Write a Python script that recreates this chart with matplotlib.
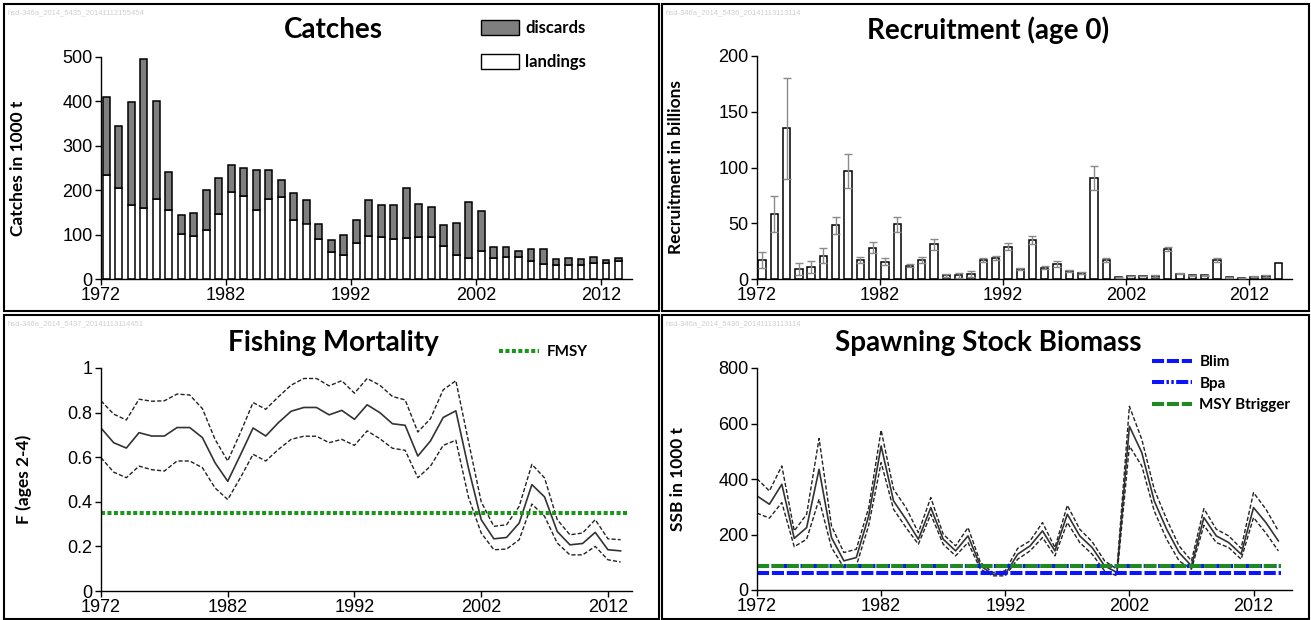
import matplotlib
matplotlib.use("Agg")
import matplotlib.pyplot as plt
from matplotlib.patches import Rectangle, Patch
from matplotlib.lines import Line2D
import numpy as np

W, H = 1311, 620

# catches (1000 t)
catch_years = list(range(1972, 2014))
landings = [235, 206, 167, 159, 181, 156, 102, 96, 111, 147,
            195, 186, 155, 181, 184, 134, 125, 91, 60, 55,
            80, 96, 94, 89, 92, 94, 94, 74, 53, 47,
            62, 47, 50, 49, 41, 34, 32, 32, 31, 35,
            35, 41]
discards = [174, 138, 231, 336, 219, 84, 43, 52, 90, 80,
            62, 65, 90, 64, 39, 59, 54, 34, 27, 43,
            54, 83, 73, 78, 112, 76, 68, 48, 72, 126,
            92, 25, 22, 15, 26, 33, 12, 15, 13, 15,
            7, 6]

# recruitment (billions)
rec_years = list(range(1972, 2015))
recruits = [16.8, 58, 135, 9, 11, 21, 48, 97, 17, 28,
            15.6, 49, 12, 17, 31, 3.3, 3.3, 4.5, 17, 19,
            29, 9, 35, 10, 13.5, 7, 5.4, 90.5, 17, 1.5,
            2.7, 2.7, 2.7, 27, 4.8, 3.3, 3.3, 17, 1.5, 1,
            2, 2.7, 14.4]
rec_err = [7, 16, 45, 5, 5.5, 7, 8, 15, 3, 5,
           3.4, 7, 1.5, 3, 5, 1.2, 2.5, 2.5, 2, 2,
           3, 1, 4, 1.4, 2.5, 1, 0.5, 10.5, 2, 0.3,
           0.4, 0.4, 0.5, 2, 0.6, 0.5, 0.5, 2, 0.3, 0.3,
           0.4, 0.6, 0]

# fishing mortality
f_years = list(range(1972, 2014))
f_mean = [0.731, 0.665, 0.641, 0.71, 0.695, 0.695, 0.733, 0.733, 0.688, 0.575,
          0.492, 0.61, 0.731, 0.695, 0.755, 0.806, 0.823, 0.823, 0.79, 0.81,
          0.77, 0.835, 0.80, 0.75, 0.743, 0.605, 0.673, 0.778, 0.808, 0.55,
          0.32, 0.234, 0.24, 0.305, 0.477, 0.422, 0.267, 0.207, 0.213, 0.263,
          0.185, 0.18]
f_high = [0.853, 0.793, 0.767, 0.86, 0.851, 0.853, 0.883, 0.879, 0.818, 0.68,
          0.583, 0.71, 0.845, 0.815, 0.871, 0.923, 0.953, 0.953, 0.92, 0.943,
          0.887, 0.953, 0.923, 0.872, 0.857, 0.713, 0.773, 0.902, 0.943, 0.67,
          0.40, 0.29, 0.297, 0.38, 0.568, 0.507, 0.32, 0.252, 0.26, 0.32,
          0.234, 0.23]
f_low = [0.598, 0.533, 0.508, 0.56, 0.544, 0.538, 0.583, 0.583, 0.553, 0.462,
         0.41, 0.508, 0.613, 0.583, 0.635, 0.68, 0.694, 0.694, 0.665, 0.68,
         0.653, 0.718, 0.683, 0.64, 0.631, 0.508, 0.56, 0.653, 0.676, 0.42,
         0.26, 0.185, 0.188, 0.23, 0.39, 0.335, 0.215, 0.162, 0.162, 0.2,
         0.14, 0.13]
fmsy = 0.35

# spawning stock biomass (1000 t)
ssb_years = list(range(1972, 2015))
ssb_mean = [339, 309, 381, 186, 225, 435, 189, 105, 117, 267,
            519, 321, 255, 183, 297, 183, 141, 195, 87, 57,
            57, 129, 159, 213, 141, 273, 195, 153, 87, 63,
            590, 495, 321, 219, 135, 87, 261, 195, 171, 129,
            297, 243, 177]
ssb_high = [401, 357, 447, 213, 273, 546, 231, 135, 147, 297,
            576, 363, 297, 207, 333, 201, 159, 225, 99, 63,
            69, 150, 177, 243, 153, 305, 219, 174, 105, 75,
            662, 543, 363, 255, 159, 105, 293, 219, 195, 150,
            351, 291, 213]
ssb_low = [277, 259, 315, 156, 183, 327, 153, 81, 87, 233,
           459, 291, 225, 165, 273, 165, 123, 171, 75, 51,
           51, 111, 141, 189, 123, 243, 171, 129, 69, 51,
           519, 447, 285, 183, 105, 75, 233, 171, 153, 111,
           261, 205, 141]
blim = 60
bpa = 85
msy_btrigger = 85

xticks = [1972, 1982, 1992, 2002, 2012]

plt.rcParams['font.family'] = ['Liberation Sans', 'DejaVu Sans']
TFONT = ['Lato', 'DejaVu Sans']


def px_box(x0, y0, x1, y1):
    return [x0 / W, 1 - y1 / H, (x1 - x0) / W, (y1 - y0) / H]


def fx(x):
    return x / W


def fy(y):
    return 1 - y / H


def style_axes(ax, ylabel):
    for s in ['top', 'right']:
        ax.spines[s].set_visible(False)
    for s in ['left', 'bottom']:
        ax.spines[s].set_linewidth(1.0)
    ax.set_xticks(xticks)
    ax.tick_params(direction='out', length=4, width=1, labelsize=13, pad=2)
    ax.set_ylabel(ylabel, fontsize=12.5, fontweight='bold', family=TFONT)


fig = plt.figure(figsize=(W / 100, H / 100), dpi=100)

# panel frames
for (x0, y0, x1, y1) in [(4, 4, 659, 311), (662, 4, 1309, 311),
                         (4, 315, 659, 619), (662, 315, 1309, 619)]:
    fig.add_artist(Rectangle((fx(x0), fy(y1)), (x1 - x0) / W, (y1 - y0) / H,
                             transform=fig.transFigure, fill=False,
                             edgecolor='black', linewidth=1.5))

# faint watermarks
for (x, y, s) in [(8, 13, 'hsd-346a_2014_5435_20141112155454'),
                  (665, 13, 'hsd-346a_2014_5436_20141113113114'),
                  (8, 324, 'hsd-346a_2014_5437_20141113114451'),
                  (665, 324, 'hsd-346a_2014_5436_20141113113114')]:
    fig.text(fx(x), fy(y), s, fontsize=5.5, color='#d0d0d0', va='center')

# ---- Catches
ax1 = fig.add_axes(px_box(101, 57, 632, 279))
cx = np.array(catch_years) + 0.42
ax1.bar(cx, landings, width=0.55, color='white', edgecolor='black', linewidth=1.1)
ax1.bar(cx, discards, width=0.55, bottom=landings, color='#7f7f7f',
        edgecolor='black', linewidth=1.1)
ax1.set_xlim(1972, 2014.5)
ax1.set_ylim(0, 500)
ax1.set_yticks([0, 100, 200, 300, 400, 500])
style_axes(ax1, 'Catches in 1000 t')
ax1.yaxis.set_label_coords((26 - 101) / 531, 0.5)
fig.text(fx(333), fy(30), 'Catches', ha='center', va='center', fontsize=20,
         fontweight='bold', family=TFONT)
fig.legend(handles=[Patch(facecolor='#7f7f7f', edgecolor='black', label='discards'),
                    Patch(facecolor='white', edgecolor='black', label='landings')],
           loc='upper left', bbox_to_anchor=(fx(481), fy(20)), frameon=False,
           borderpad=0, borderaxespad=0, handlelength=2.3, handleheight=1.0,
           labelspacing=1.05, handletextpad=0.35,
           prop={'family': TFONT, 'weight': 'bold', 'size': 12})

# ---- Recruitment
ax2 = fig.add_axes(px_box(757, 56, 1292, 279))
rx = np.array(rec_years) + 0.4
ax2.bar(rx, recruits, width=0.6, color='white', edgecolor='black', linewidth=1.1)
err_x = [x for x, e in zip(rx, rec_err) if e > 0]
err_y = [r for r, e in zip(recruits, rec_err) if e > 0]
err_e = [e for e in rec_err if e > 0]
ax2.errorbar(err_x, err_y, yerr=err_e, fmt='none', ecolor='#8a8a8a',
             elinewidth=1.0, capsize=3, capthick=1.0, zorder=3)
ax2.set_xlim(1972, 2015.5)
ax2.set_ylim(0, 200)
ax2.set_yticks([0, 50, 100, 150, 200])
style_axes(ax2, 'Recruitment in billions')
ax2.yaxis.set_label_coords((684 - 757) / 535, 0.5)
fig.text(fx(988), fy(30), 'Recruitment (age 0)', ha='center', va='center',
         fontsize=20, fontweight='bold', family=TFONT)

# ---- Fishing mortality
ax3 = fig.add_axes(px_box(101, 368, 632, 591))
ax3.plot(f_years, f_high, color='#222222', lw=1.0, ls=(0, (3, 1.5)))
ax3.plot(f_years, f_mean, color='#333333', lw=1.2)
ax3.plot(f_years, f_low, color='#222222', lw=1.0, ls=(0, (3, 1.5)))
ax3.axhline(fmsy, xmin=0, xmax=(2013.5 - 1972) / (2013.9 - 1972),
            color='#1a961a', lw=2.9, ls=(0, (1, 0.6)))
ax3.set_xlim(1972, 2013.9)
ax3.set_ylim(0, 1)
ax3.set_yticks([0, 0.2, 0.4, 0.6, 0.8, 1])
ax3.set_yticklabels(['0', '0.2', '0.4', '0.6', '0.8', '1'])
style_axes(ax3, 'F (ages 2-4)')
ax3.yaxis.set_label_coords((32 - 101) / 531, 0.5)
fig.text(fx(333), fy(343), 'Fishing Mortality', ha='center', va='center',
         fontsize=20, fontweight='bold', family=TFONT)
fig.legend(handles=[Line2D([], [], color='#1a961a', lw=2.9, ls=(0, (1, 0.6)),
                           label='FMSY')],
           loc='upper left', bbox_to_anchor=(fx(499), fy(345)), frameon=False,
           borderpad=0, borderaxespad=0, handlelength=2.6, handletextpad=0.5,
           prop={'family': TFONT, 'weight': 'bold', 'size': 11})

# ---- SSB
ax4 = fig.add_axes(px_box(757, 368, 1292, 590))
ax4.plot(ssb_years, ssb_high, color='#222222', lw=1.0, ls=(0, (3, 1.5)))
ax4.plot(ssb_years, ssb_mean, color='#333333', lw=1.2)
ax4.plot(ssb_years, ssb_low, color='#222222', lw=1.0, ls=(0, (3, 1.5)))
xm = (2014.2 - 1972) / (2015.1 - 1972)
ax4.axhline(blim, xmax=xm, color='#0a14ff', lw=2.9, ls=(0, (3, 0.7)))
ax4.axhline(bpa, xmax=xm, color='#0a14ff', lw=2.9, ls=(0, (3, 0.6, 0.6, 0.6, 0.6, 0.6)))
ax4.axhline(msy_btrigger, xmax=xm, color='#1f8a1f', lw=2.9, ls=(0, (3, 0.7)))
ax4.set_xlim(1972, 2015.1)
ax4.set_ylim(0, 800)
ax4.set_yticks([0, 200, 400, 600, 800])
style_axes(ax4, 'SSB in 1000 t')
ax4.yaxis.set_label_coords((686 - 757) / 535, 0.5)
fig.text(fx(988), fy(343), 'Spawning Stock Biomass', ha='center', va='center',
         fontsize=20, fontweight='bold', family=TFONT)
fig.legend(handles=[Line2D([], [], color='#0a14ff', lw=2.9, ls=(0, (3, 0.7)), label='Blim'),
                    Line2D([], [], color='#0a14ff', lw=2.9,
                           ls=(0, (3, 0.6, 0.6, 0.6, 0.6, 0.6)), label='Bpa'),
                    Line2D([], [], color='#1f8a1f', lw=2.9, ls=(0, (3, 0.7)),
                           label='MSY Btrigger')],
           loc='upper left', bbox_to_anchor=(fx(1152), fy(355)), frameon=False,
           borderpad=0, borderaxespad=0, handlelength=2.6, handletextpad=0.5,
           labelspacing=0.5,
           prop={'family': TFONT, 'weight': 'bold', 'size': 11})

fig.savefig('out.png', dpi=100)
